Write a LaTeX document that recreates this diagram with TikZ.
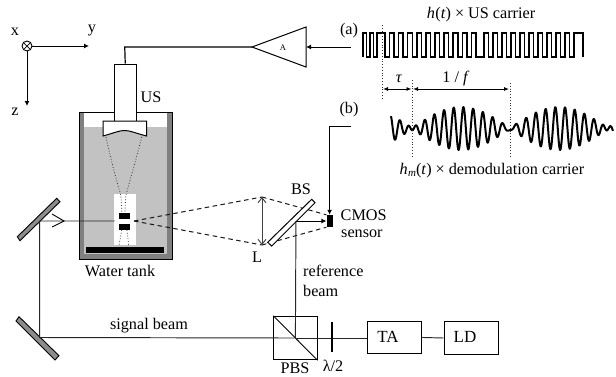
\documentclass[tikz,border=0pt]{standalone}
\usepackage{fontspec}
\setmainfont{Liberation Serif}
\usetikzlibrary{arrows.meta,calc}
\definecolor{wallc}{gray}{0.5}
\definecolor{waterc}{gray}{0.76}
\definecolor{mirrc}{gray}{0.55}
\tikzset{
  lab/.style={inner sep=0pt,font=\fontsize{16.2}{18}\selectfont,text=black},
  boxn/.style={draw=black,line width=1pt,fill=white,inner sep=0pt,minimum width=#1},
  beam/.style={line width=0.95pt,draw=black!85},
  dashln/.style={line width=1pt,dash pattern=on 4.5pt off 3.5pt,draw=black!90},
  dots/.style={line width=0.8pt,dotted,draw=black!80},
  arr/.style={line width=1pt,-{Latex[length=5pt,width=5pt]}},
  darr/.style={line width=0.9pt,{Latex[length=5pt,width=4pt]}-{Latex[length=5pt,width=4pt]}},
  mirr/.style={draw=black,line width=0.9pt,fill=mirrc},
}
\begin{document}
\begin{tikzpicture}[x=1pt,y=-1pt]
\useasboundingbox (0,0) rectangle (616,376);
% axes
\node[draw=black,line width=0.9pt,circle,minimum size=10pt,inner sep=0pt,fill=white] (ax) at (27,46) {};
\draw[line width=0.7pt] (ax.north west)--(ax.south east) (ax.north east)--(ax.south west);
\coordinate (ay) at (89,46); \coordinate (az) at (27,106);
\draw[arr] (ax)--(ay);
\draw[arr] (ax)--(az);
\node[lab] at (15,32) {x};
\node[lab] at (92,31) {y};
\node[lab] at (15,112) {z};
% tank
\fill[wallc] (79,112) rectangle (172,259);
\draw[line width=0.8pt] (172,112) -- (172,259) -- (79,259) -- (79,112) -- (172,112);
\fill[white] (84,113) rectangle (167,127);
\fill[waterc] (84,127) rectangle (167,254);
% window
\fill[white] (114,194) rectangle (135.6,245);
\fill[black] (85.5,246.5) rectangle (163.5,253);
% US
\node[boxn=22.5pt,minimum height=57.5pt,anchor=north west] (us) at (113.5,63.5) {};
\draw[line width=1pt,fill=white] (103,121) -- (146.5,121) -- (146.5,136) .. controls (135,133) and (130,130.5) .. (124.5,130.5) .. controls (119,130.5) and (114,133) .. (103,136) -- cycle;
% dotted
\draw[dots] (106,137) .. controls (112,165) and (118,185) .. (120.7,195) .. controls (121.5,202) and (121.7,208) .. (121.7,213);
\draw[dots] (141.7,137) .. controls (136,160) and (130,180) .. (126,195) .. controls (125.3,202) and (125,208) .. (125,213);
\draw[dots] (121.7,230) -- (119,246);
\draw[dots] (127,230) -- (128.7,246);
% blocks
\node[fill=black,minimum width=11pt,minimum height=6pt,inner sep=0pt] (blockA) at (124.5,215.5) {};
\node[fill=black,minimum width=11pt,minimum height=6pt,inner sep=0pt] (blockB) at (124.5,227) {};
% amplifier
\coordinate (ampL) at (252,47);
\coordinate (ampT) at (306,27);
\coordinate (ampB) at (306,67);
\coordinate (ampR) at (306,47);
\draw[line width=1pt] (ampL)--(ampT)--(ampB)--cycle;
\node[inner sep=0pt,font=\fontsize{8.5}{10}\selectfont] at (283,48) {A};
\draw[line width=1.2pt] (us.north) -- (124.75,47) -- (ampL);
\coordinate (aend) at (351,47);
\draw[arr] (aend) -- (ampR);
\node[lab] at (349,31) {(a)};
% signal labels
\node[lab] (h) at (481,15) {\textit{h}\kern0.5pt(\textit{t}) × US carrier};
\node[lab] (hm) at (492,171) {\textit{h}\kern0.3pt{\fontsize{11}{12}\selectfont\raisebox{-2pt}{\textit{m}}}(\textit{t}) × demodulation carrier};
% square wave
\draw[line width=1.5pt,line join=miter] (363,57) -- (363,33) -- ++(3.5,0) -- ++(0,24) -- ++(3.5,0) -- ++(0,-24) -- ++(3.5,0) -- ++(0,24) -- ++(3.5,0) -- ++(0,-24) -- ++(8,0)
 \foreach \k in {1,...,10} { -- ++(0,24) -- ++(4.5,0) -- ++(0,-24) -- ++(4.6,0) }
 -- ++(0,24) -- ++(8,0) -- ++(0,-24) -- ++(4.5,0)
 \foreach \k in {1,...,9} { -- ++(0,24) -- ++(4.5,0) -- ++(0,-24) -- ++(4.5,0) }
 -- ++(0,24) -- ++(4.5,0) -- ++(0,-24) -- ++(9,0) -- ++(0,24);
% demod wave
\draw[line width=2pt,line join=round,samples=500,domain=391:613]
 plot ({\x},{128.5-(21.5*sin(1.8367*(\x-412))*cos(37.113*(\x-463.3))+1.8*sin(37.113*(\x-463.3)))});
% dotted guides
\coordinate (g1t) at (382,25); \coordinate (g1b) at (382,98);
\coordinate (g2t) at (412,80); \coordinate (g2b) at (412,157);
\coordinate (g3t) at (510,83); \coordinate (g3b) at (510,157);
\draw[dots] (g1t)--(g1b) (g2t)--(g2b) (g3t)--(g3b);
\coordinate (d1) at (383,89); \coordinate (d2) at (411.5,89);
\coordinate (d3) at (413,89); \coordinate (d4) at (509,89);
\draw[darr] (d1)--(d2);
\draw[darr] (d3)--(d4);
\node[lab] at (399,79) {\textit{τ}};
\node[lab] at (456,79) {1 / \textit{f}};
% mirrors
\draw[mirr] (56.7,198.3) -- (60,201.7) -- (20,240.7) -- (17.3,236.7) -- cycle;
\draw[mirr] (19,316.7) -- (16,321) -- (55,360) -- (59,355.7) -- cycle;
% boxes
\node[boxn=43.2pt,minimum height=43.6pt,anchor=north west] (pbs) at (273.3,315.7) {};
\draw[line width=0.9pt] (pbs.north west)--(pbs.south east);
\node[boxn=54pt,minimum height=32.5pt,anchor=north west] (ta) at (366.7,320.7) {};
\node[boxn=54.3pt,minimum height=33pt,anchor=north west] (ld) at (443.7,321) {};
\node[lab,font=\fontsize{17}{19}\selectfont] at (388,337) {TA};
\node[lab,font=\fontsize{17}{19}\selectfont] at (465,337) {LD};
% beams
\coordinate (m1) at (39.7,221);
\coordinate (m2) at (39.7,337.5);
\coordinate (win) at (114.5,221);
\coordinate (refc) at (295.95,221);
\draw[beam] (win)--(m1)--(m2)--(pbs.center);
\draw[line width=0.9pt] (52,214)--(64,221)--(52,227);
\draw[beam] (pbs.center)--(ta.west |- pbs.center);
\draw[beam] (ta.east)--(ld.west);
\draw[line width=2.8pt] (332,322)--(332,352);
\node[lab] at (295,368.5) {PBS};
\node[lab] at (333,366) {λ/2};
\node[lab] at (149,326) {signal beam};
% dashed imaging
\coordinate (fp) at (134,221);
\coordinate (lt) at (262,197);
\coordinate (lb) at (262,245);
\draw[dashln] (fp)--(lt);
\draw[dashln] (fp)--(lb);
\node[fill=black,minimum width=6pt,minimum height=12pt,inner sep=0pt] (cmos) at (329.6,221) {};
\draw[dashln] (lt)--(cmos.north west);
\draw[dashln] (lb)--(cmos.south west);
% lens
\draw[line width=0.9pt,draw=black!75,{Straight Barb[length=5pt,width=8pt]}-{Straight Barb[length=5pt,width=8pt]}] (lt)--(lb);
% BS
\fill[white,draw=black,line width=1pt] (311.7,199.3) -- (315,202.7) -- (271.7,246) -- (267.7,242.3) -- cycle;
% reference
\draw[beam] (pbs.center)--(refc);
\draw[arr] (refc)--(cmos.west);
\coordinate (b1) at (351,126);
\coordinate (b2) at (329.6,126);
\draw[arr] (b1)--(b2)--(cmos.north);
\node[lab] at (349,110) {(b)};
% labels
\node[lab] at (301,189) {BS};
\node[lab,anchor=west] at (340.5,215) {CMOS};
\node[lab,anchor=west] at (341,234) {sensor};
\node[lab] at (257,257) {L};
\node[lab] at (120,270.5) {Water tank};
\node[lab,anchor=west] at (303,271) {reference};
\node[lab,anchor=west] at (303,291) {beam};
\node[lab] at (151,97) {US};
\end{tikzpicture}
\end{document}
